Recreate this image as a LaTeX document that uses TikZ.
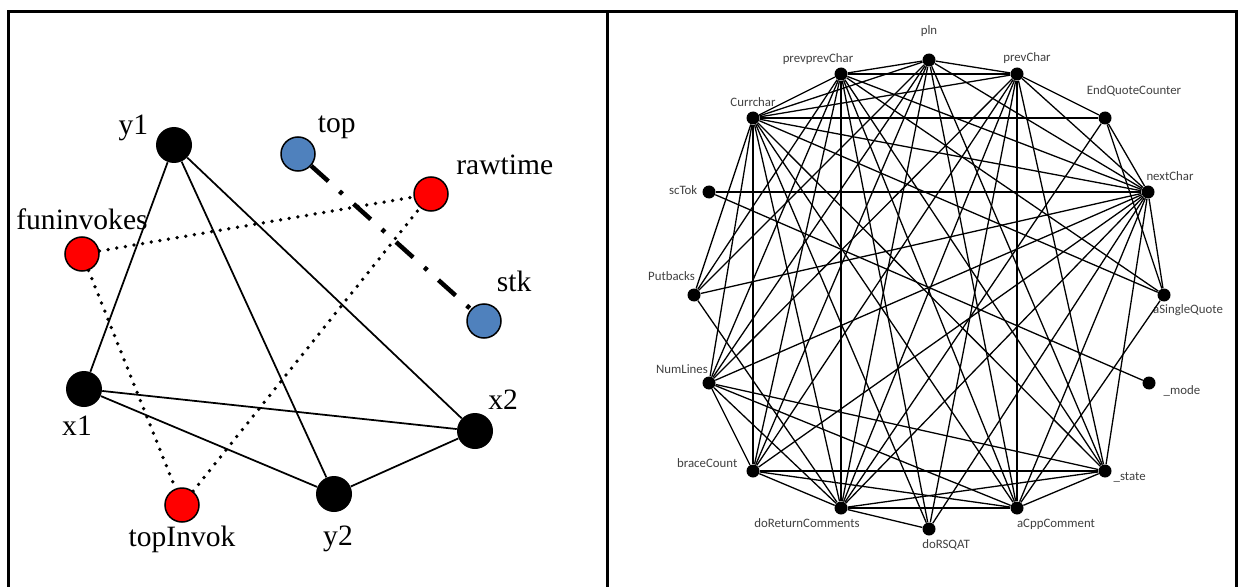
\documentclass[tikz,border=0pt]{standalone}
\usepackage{fontspec}
\setmainfont{Liberation Serif}
\newfontfamily\fieldfont{Carlito}
\usepackage{tikz}
\usetikzlibrary{positioning}

\definecolor{varred}{HTML}{FF0000}
\definecolor{varblue}{HTML}{4F81BD}

\tikzset{
    var/.style={circle, fill=black, minimum size=7.2mm, inner sep=0pt},
    redvar/.style={circle, draw=black, line width=0.3mm, fill=varred, minimum size=6.8mm, inner sep=0pt},
    bluevar/.style={circle, draw=black, line width=0.3mm, fill=varblue, minimum size=6.8mm, inner sep=0pt},
    varname/.style={inner sep=0pt, font=\fontsize{16.8}{18}\selectfont, text height=4.1mm, text depth=1.3mm},
    dep/.style={line width=0.35mm},
    weakdep/.style={line width=0.75mm, line cap=round, dash pattern=on 0mm off 1.75mm},
    stackdep/.style={line width=0.9mm, dash pattern=on 4.6mm off 3mm on 0.8mm off 3mm},
    fld/.style={circle, fill=black, minimum size=2.6mm, inner sep=0pt},
    fldname/.style={inner sep=0pt, text=black!75, font=\fieldfont\fontsize{7.3}{8}\selectfont, text height=1.6mm, text depth=0.5mm},
    link/.style={line width=0.26mm},
    frame/.style={line width=0.6mm},
}

\begin{document}
\begin{tikzpicture}[x=0.2mm, y=-0.2mm]
    \useasboundingbox (0,0) rectangle (1239,587);
    \clip (0,0) rectangle (1239,587);

    % panels
    \draw[frame] (8,12) rectangle (1236,620);
    \draw[frame] (607,12) -- (607,620);

    % left: variable graph
    \node[var] (y1) at (174,145) {};
    \node[bluevar] (top) at (298,154) {};
    \node[redvar] (rawtime) at (431,194) {};
    \node[redvar] (funinvokes) at (82,254) {};
    \node[bluevar] (stk) at (484,321) {};
    \node[var] (x1) at (84,389) {};
    \node[var] (x2) at (475,431) {};
    \node[redvar] (topinvok) at (182,505) {};
    \node[var] (y2) at (334,494) {};

    \node[varname, above left=-1.8mm and 2.5mm of y1] (y1-name) {y1};
    \node[varname, above right=0.5mm and 1.4mm of top] (top-name) {top};
    \node[varname, above right=0.1mm and 2.5mm of rawtime] (rawtime-name) {rawtime};
    \node[varname, above=0mm of funinvokes] (funinvokes-name) {funinvokes};
    \node[varname, above right=2.1mm and 0mm of stk] (stk-name) {stk};
    \node[varname, below=1.4mm of x1, xshift=-1.4mm] (x1-name) {x1};
    \node[varname, above right=0.4mm and 0mm of x2] (x2-name) {x2};
    \node[varname, below=0.6mm of topinvok] (topinvok-name) {topInvok};
    \node[varname, below=2.5mm of y2, xshift=0.8mm] (y2-name) {y2};

    \draw[dep] (y1) -- (x1) (y1) -- (y2) (y1) -- (x2) (x1) -- (x2) (x1) -- (y2) (y2) -- (x2);
    \draw[weakdep] (funinvokes) -- (rawtime) (funinvokes) -- (topinvok) (topinvok) -- (rawtime);
    \draw[stackdep] (top) -- (stk);

    % right: field graph
    \node[fld] (pln) at (929,60) {};
    \node[fld] (pp) at (841,74) {};
    \node[fld] (pc) at (1017,74) {};
    \node[fld] (cur) at (753,118) {};
    \node[fld] (eqc) at (1105,118) {};
    \node[fld] (sct) at (709,192) {};
    \node[fld] (nxt) at (1148,192) {};
    \node[fld] (pb) at (694,295) {};
    \node[fld] (asq) at (1164,295) {};
    \node[fld] (nl) at (709,383) {};
    \node[fld] (mode) at (1149,383) {};
    \node[fld] (bc) at (753,471) {};
    \node[fld] (state) at (1105,471) {};
    \node[fld] (drc) at (841,508) {};
    \node[fld] (drq) at (929,529) {};
    \node[fld] (acc) at (1017,508) {};

    \node[fldname, above=3.2mm of pln] (pln-name) {pln};
    \node[fldname, above=0.45mm of pp, xshift=-4.6mm] (pp-name) {prevprevChar};
    \node[fldname, above=0.65mm of pc, xshift=2mm] (pc-name) {prevChar};
    \node[fldname, above=0.45mm of cur] (cur-name) {Currchar};
    \node[fldname, above=2.85mm of eqc, xshift=5.8mm] (eqc-name) {EndQuoteCounter};
    \node[fldname, left=0.9mm of sct] (sct-name) {scTok};
    \node[fldname, above=0.45mm of nxt, xshift=4.4mm] (nxt-name) {nextChar};
    \node[fldname, above=1.05mm of pb, xshift=-4.5mm] (pb-name) {Putbacks};
    \node[fldname, below=0.6mm of asq, xshift=4.8mm] (asq-name) {aSingleQuote};
    \node[fldname, above=0mm of nl, xshift=-5.4mm] (nl-name) {NumLines};
    \node[fldname, right=1.5mm of mode, yshift=-1.8mm] (mode-name) {\_mode};
    \node[fldname, left=1.7mm of bc, yshift=1.2mm] (bc-name) {braceCount};
    \node[fldname, right=0.3mm of state, yshift=-1.4mm] (state-name) {\_state};
    \node[fldname, below=0.85mm of drc, xshift=-6.8mm] (drc-name) {doReturnComments};
    \node[fldname, below=0.85mm of drq, xshift=3.4mm] (drq-name) {doRSQAT};
    \node[fldname, below=0.85mm of acc, xshift=7.8mm] (acc-name) {aCppComment};

    \foreach \a/\b in {cur/pp, cur/pln, cur/pc, cur/eqc, cur/nxt, cur/asq, cur/pb, cur/nl,
                       cur/bc, cur/drc, cur/drq, cur/acc, cur/state,
                       pp/pln, pp/pc, pp/nxt, pp/asq, pp/pb, pp/nl, pp/bc, pp/drc, pp/drq, pp/acc, pp/state,
                       pln/pc, pln/nxt, pln/nl, pln/bc, pln/drc, pln/acc, pln/state, pln/pb,
                       pc/eqc, pc/nxt, pc/nl, pc/bc, pc/drc, pc/drq, pc/acc, pc/state,
                       eqc/nxt, eqc/asq, eqc/drc,
                       sct/nxt, sct/mode,
                       nxt/asq, nxt/pb, nxt/nl, nxt/bc, nxt/drc, nxt/drq, nxt/acc, nxt/state,
                       asq/acc, pb/drc,
                       nl/bc, nl/drc, nl/acc, nl/state,
                       bc/drc, bc/acc, bc/state,
                       drc/drq, drc/acc, drc/state, acc/state}
        \draw[link] (\a) -- (\b);
\end{tikzpicture}
\end{document}
